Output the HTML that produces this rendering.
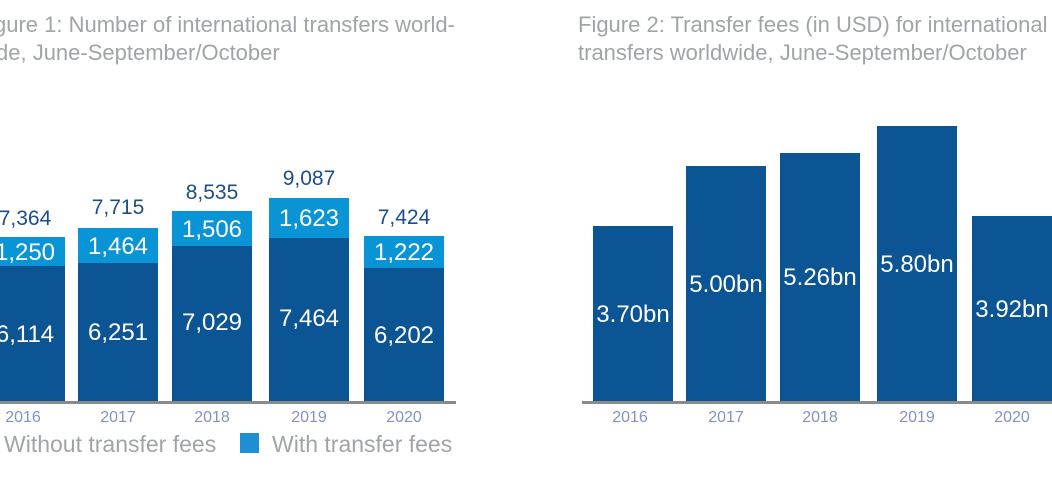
<!DOCTYPE html>
<html><head><meta charset="utf-8"><style>
body{margin:0;width:1052px;height:493px;overflow:hidden;background:#fff;font-family:"Liberation Sans",sans-serif;position:relative}
div{position:absolute}
.d{background:#0c5594}.l{background:#0995d5}
.t{color:#a0a4a8;font-size:22px;line-height:28px;white-space:nowrap}
.w{color:#fff;font-size:24px;text-align:center;line-height:26px;white-space:nowrap}
.tot{color:#1a4f8a;font-size:21px;text-align:center;line-height:24px}
.y{color:#8393c0;font-size:16px;text-align:center;line-height:18px}
.ax{background:#8a8a8a;height:3px}
</style></head><body>
<div class="t" style="left:-6px;top:11px">gure 1: Number of international transfers world-</div>
<div class="t" style="left:-4px;top:39px">de, June-September/October</div>
<div class="t" style="left:578px;top:11px">Figure 2: Transfer fees (in USD) for international</div>
<div class="t" style="left:578px;top:39px">transfers worldwide, June-September/October</div>

<div class="l" style="left:-15px;width:80px;top:237px;height:29px"></div><div class="d" style="left:-15px;width:80px;top:266px;height:136px"></div>
<div class="l" style="left:78px;width:80px;top:228px;height:35px"></div><div class="d" style="left:78px;width:80px;top:263px;height:139px"></div>
<div class="l" style="left:172px;width:80px;top:211px;height:35px"></div><div class="d" style="left:172px;width:80px;top:246px;height:156px"></div>
<div class="l" style="left:269px;width:80px;top:198px;height:40px"></div><div class="d" style="left:269px;width:80px;top:238px;height:164px"></div>
<div class="l" style="left:364px;width:80px;top:236px;height:32px"></div><div class="d" style="left:364px;width:80px;top:268px;height:134px"></div>

<div class="tot" style="left:-15px;width:80px;top:207px">7,364</div>
<div class="tot" style="left:78px;width:80px;top:196px">7,715</div>
<div class="tot" style="left:172px;width:80px;top:181px">8,535</div>
<div class="tot" style="left:269px;width:80px;top:167px">9,087</div>
<div class="tot" style="left:364px;width:80px;top:206px">7,424</div>

<div class="w" style="left:-15px;width:80px;top:240px">1,250</div>
<div class="w" style="left:78px;width:80px;top:234px">1,464</div>
<div class="w" style="left:172px;width:80px;top:217px">1,506</div>
<div class="w" style="left:269px;width:80px;top:206px">1,623</div>
<div class="w" style="left:364px;width:80px;top:240px">1,222</div>

<div class="w" style="left:-15px;width:80px;top:322px">6,114</div>
<div class="w" style="left:78px;width:80px;top:320px">6,251</div>
<div class="w" style="left:172px;width:80px;top:310px">7,029</div>
<div class="w" style="left:269px;width:80px;top:306px">7,464</div>
<div class="w" style="left:364px;width:80px;top:323px">6,202</div>

<div class="ax" style="left:0;width:456px;top:401px"></div>
<div class="y" style="left:-17px;width:80px;top:409px">2016</div>
<div class="y" style="left:78px;width:80px;top:409px">2017</div>
<div class="y" style="left:172px;width:80px;top:409px">2018</div>
<div class="y" style="left:269px;width:80px;top:409px">2019</div>
<div class="y" style="left:364px;width:80px;top:409px">2020</div>
<div class="t" style="left:4px;top:430px;font-size:23px">Without transfer fees</div>
<div style="left:240px;top:433px;width:19px;height:20px;background:#1e8fd3"></div>
<div class="t" style="left:272px;top:430px;font-size:23px">With transfer fees</div>

<div class="d" style="left:593px;width:80px;top:226px;height:176px"></div>
<div class="d" style="left:686px;width:80px;top:166px;height:236px"></div>
<div class="d" style="left:780px;width:80px;top:153px;height:249px"></div>
<div class="d" style="left:877px;width:80px;top:126px;height:276px"></div>
<div class="d" style="left:972px;width:90px;top:216px;height:186px"></div>
<div class="w" style="left:589px;width:88px;top:302px">3.70bn</div>
<div class="w" style="left:682px;width:88px;top:272px">5.00bn</div>
<div class="w" style="left:776px;width:88px;top:265px">5.26bn</div>
<div class="w" style="left:873px;width:88px;top:252px">5.80bn</div>
<div class="w" style="left:968px;width:88px;top:297px">3.92bn</div>
<div class="ax" style="left:582px;width:470px;top:401px"></div>
<div class="y" style="left:590px;width:80px;top:409px">2016</div>
<div class="y" style="left:686px;width:80px;top:409px">2017</div>
<div class="y" style="left:780px;width:80px;top:409px">2018</div>
<div class="y" style="left:877px;width:80px;top:409px">2019</div>
<div class="y" style="left:972px;width:80px;top:409px">2020</div>
</body></html>
